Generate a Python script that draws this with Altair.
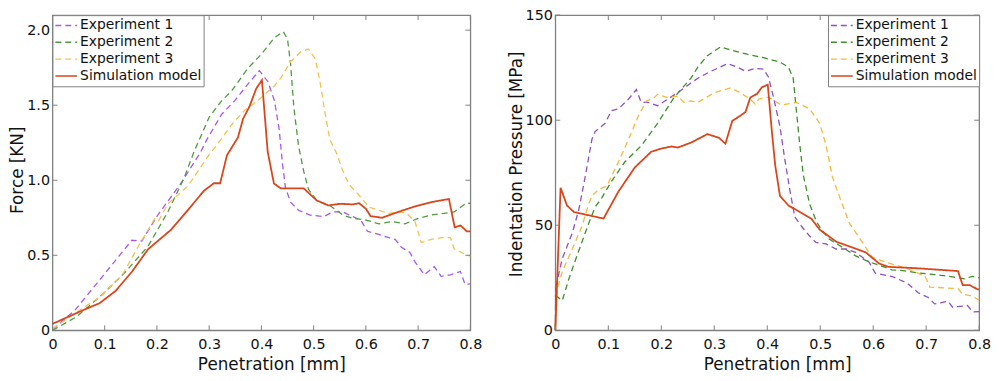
import altair as alt
import pandas as pd

SERIES = ["Experiment 1", "Experiment 2", "Experiment 3", "Simulation model"]
X_TICKS = [0, 0.1, 0.2, 0.3, 0.4, 0.5, 0.6, 0.7, 0.8]
LEFT_Y_TICKS = [0, 0.5, 1.0, 1.5, 2.0]
RIGHT_Y_TICKS = [0, 50, 100, 150]
LEFT_COLORS = ["#a557f2", "#4f9a3f", "#f3c24f", "#d9461c"]
RIGHT_COLORS = ["#8e4fc0", "#3e8e2b", "#f6b93a", "#d9461c"]
DASHES = [[6, 4], [6, 4], [6, 4], [1, 0]]

# ---- Left panel: Force [KN] ----
L_EXP1_X = [0, 0.043, 0.096, 0.152, 0.171, 0.202, 0.246, 0.284, 0.296, 0.324, 0.349, 0.374, 0.396, 0.412, 0.425, 0.434, 0.44, 0.446, 0.456, 0.471, 0.493, 0.519, 0.537, 0.556, 0.575, 0.59, 0.603, 0.625, 0.644, 0.656, 0.668, 0.684, 0.694, 0.712, 0.731, 0.744, 0.762, 0.781, 0.79, 0.8]
L_EXP1_Y = [0.006, 0.134, 0.36, 0.60, 0.595, 0.77, 0.98, 1.19, 1.274, 1.44, 1.53, 1.64, 1.73, 1.66, 1.53, 1.34, 1.12, 0.95, 0.854, 0.80, 0.768, 0.757, 0.789, 0.789, 0.757, 0.735, 0.66, 0.639, 0.617, 0.606, 0.553, 0.52, 0.456, 0.37, 0.424, 0.36, 0.37, 0.392, 0.305, 0.31]

L_EXP2_X = [0, 0.046, 0.096, 0.14, 0.183, 0.221, 0.252, 0.271, 0.3, 0.324, 0.343, 0.374, 0.4, 0.425, 0.442, 0.45, 0.456, 0.462, 0.471, 0.481, 0.49, 0.506, 0.531, 0.556, 0.575, 0.6, 0.625, 0.65, 0.675, 0.7, 0.725, 0.75, 0.769, 0.781, 0.793, 0.8]
L_EXP2_Y = [0.0, 0.09, 0.24, 0.39, 0.56, 0.79, 1.015, 1.19, 1.42, 1.53, 1.595, 1.746, 1.84, 1.95, 1.99, 1.94, 1.77, 1.49, 1.23, 1.06, 0.94, 0.865, 0.832, 0.768, 0.746, 0.735, 0.71, 0.725, 0.71, 0.746, 0.768, 0.779, 0.789, 0.82, 0.85, 0.845]

L_EXP3_X = [0, 0.046, 0.09, 0.134, 0.165, 0.196, 0.203, 0.221, 0.259, 0.3, 0.318, 0.343, 0.368, 0.393, 0.425, 0.437, 0.456, 0.475, 0.49, 0.503, 0.512, 0.522, 0.531, 0.543, 0.556, 0.568, 0.587, 0.606, 0.625, 0.644, 0.662, 0.678, 0.694, 0.706, 0.725, 0.744, 0.762, 0.769, 0.788, 0.8]
L_EXP3_Y = [0.01, 0.12, 0.22, 0.37, 0.563, 0.746, 0.73, 0.843, 0.96, 1.17, 1.25, 1.37, 1.466, 1.53, 1.63, 1.68, 1.79, 1.855, 1.875, 1.81, 1.66, 1.445, 1.27, 1.187, 1.06, 0.97, 0.90, 0.82, 0.80, 0.779, 0.789, 0.779, 0.725, 0.585, 0.606, 0.617, 0.617, 0.542, 0.51, 0.495]

L_SIM_X = [0, 0.043, 0.065, 0.09, 0.121, 0.152, 0.183, 0.227, 0.259, 0.29, 0.309, 0.321, 0.334, 0.355, 0.365, 0.377, 0.39, 0.401, 0.412, 0.424, 0.437, 0.481, 0.506, 0.528, 0.55, 0.575, 0.587, 0.6, 0.609, 0.631, 0.662, 0.694, 0.725, 0.759, 0.77, 0.781, 0.793, 0.8]
L_SIM_Y = [0.043, 0.11, 0.144, 0.18, 0.263, 0.39, 0.54, 0.67, 0.8, 0.93, 0.98, 0.98, 1.166, 1.285, 1.41, 1.49, 1.61, 1.667, 1.19, 0.978, 0.946, 0.946, 0.865, 0.832, 0.843, 0.839, 0.847, 0.81, 0.761, 0.75, 0.789, 0.826, 0.854, 0.875, 0.686, 0.699, 0.66, 0.66]

# ---- Right panel: Indentation Pressure [MPa] ----
R_EXP1_X = [0, 0.002, 0.013, 0.032, 0.044, 0.057, 0.069, 0.075, 0.094, 0.106, 0.119, 0.138, 0.153, 0.162, 0.175, 0.193, 0.212, 0.231, 0.256, 0.269, 0.293, 0.325, 0.343, 0.359, 0.377, 0.393, 0.402, 0.412, 0.424, 0.433, 0.443, 0.452, 0.465, 0.48, 0.492, 0.511, 0.53, 0.549, 0.567, 0.592, 0.604, 0.636, 0.664, 0.685, 0.704, 0.716, 0.741, 0.75, 0.778, 0.788, 0.8]
R_EXP1_Y = [2, 21.8, 34.1, 46.3, 57.1, 73.9, 90.8, 94.6, 98.5, 104.6, 105.4, 110, 114.6, 108.5, 108.5, 106.9, 110, 113.1, 117.7, 120, 123.2, 126.9, 125.3, 123.3, 124.6, 124.3, 120.7, 110.8, 97, 81.6, 66.3, 54, 49.4, 44.9, 41.8, 41.1, 38.7, 38.7, 37.1, 32.5, 27.2, 25.6, 22.5, 17.9, 15.6, 12.6, 13.8, 11.0, 11.8, 8.7, 8.9]

R_EXP2_X = [0, 0.0006, 0.002, 0.013, 0.026, 0.041, 0.063, 0.075, 0.088, 0.106, 0.131, 0.162, 0.193, 0.224, 0.256, 0.269, 0.287, 0.312, 0.331, 0.362, 0.393, 0.424, 0.44, 0.449, 0.455, 0.461, 0.468, 0.48, 0.493, 0.502, 0.517, 0.542, 0.567, 0.592, 0.61, 0.635, 0.66, 0.685, 0.704, 0.728, 0.753, 0.772, 0.787, 0.8]
R_EXP2_Y = [0, 20.2, 16.4, 14.1, 24.8, 35.6, 50.9, 58.6, 63.2, 70.9, 80.1, 87.8, 98.5, 110.8, 120, 125.3, 130.7, 134.9, 133.4, 131.4, 129.8, 127.6, 125.3, 120, 104.6, 89.3, 74, 60.1, 51.7, 48.0, 43.4, 39.5, 35.4, 32.6, 31.1, 28.8, 28.3, 27.3, 26.8, 26.2, 25.3, 24.5, 25.7, 25.0]

R_EXP3_X = [0, 0.004, 0.013, 0.032, 0.05, 0.063, 0.069, 0.082, 0.097, 0.119, 0.138, 0.156, 0.172, 0.187, 0.193, 0.212, 0.231, 0.243, 0.256, 0.269, 0.3, 0.331, 0.349, 0.368, 0.377, 0.384, 0.402, 0.427, 0.455, 0.48, 0.499, 0.511, 0.523, 0.538, 0.555, 0.58, 0.598, 0.623, 0.654, 0.679, 0.698, 0.707, 0.735, 0.76, 0.769, 0.785, 0.8]
R_EXP3_Y = [2, 20.2, 27.9, 38.7, 49.4, 60.1, 64.0, 67.1, 68.6, 80.1, 90.8, 101.6, 109.2, 110.8, 112.3, 110.8, 111.5, 108.5, 109.2, 108.5, 113.1, 115.4, 113.1, 110, 107.7, 110, 111, 107.2, 108.5, 105.4, 98.5, 88, 73, 62.5, 51, 41.7, 34.8, 32.5, 30.2, 27.9, 25.6, 20.6, 20.2, 19.9, 17.2, 16.4, 14.4]

R_SIM_X = [0, 0.0099, 0.022, 0.035, 0.091, 0.119, 0.15, 0.181, 0.2, 0.219, 0.231, 0.256, 0.287, 0.309, 0.321, 0.334, 0.346, 0.359, 0.368, 0.381, 0.39, 0.401, 0.409, 0.415, 0.424, 0.44, 0.483, 0.499, 0.53, 0.586, 0.611, 0.629, 0.685, 0.76, 0.769, 0.782, 0.797, 0.8]
R_SIM_Y = [0, 67.8, 59.4, 56.3, 53.2, 66, 77.5, 85, 86.5, 87.5, 87.0, 89.3, 93.4, 91.6, 88.8, 99.7, 101.6, 103.9, 110.8, 112.6, 115.7, 116.9, 93.9, 78.6, 64, 59.4, 53.2, 47.9, 42.2, 37.1, 31.8, 30.2, 29.5, 28.2, 21.5, 21.5, 19.5, 19.5]

FONT = "DejaVu Sans"
FRAME = "#808080"
TEXT = "#111111"


def build_df(pairs):
    rows = []
    for name, xs, ys in pairs:
        for i, (x, y) in enumerate(zip(xs, ys, strict=True)):
            rows.append({"series": name, "x": x, "y": y, "i": i})
    return pd.DataFrame(rows)


left_df = build_df([
    (SERIES[0], L_EXP1_X, L_EXP1_Y),
    (SERIES[1], L_EXP2_X, L_EXP2_Y),
    (SERIES[2], L_EXP3_X, L_EXP3_Y),
    (SERIES[3], L_SIM_X, L_SIM_Y),
])
right_df = build_df([
    (SERIES[0], R_EXP1_X, R_EXP1_Y),
    (SERIES[1], R_EXP2_X, R_EXP2_Y),
    (SERIES[2], R_EXP3_X, R_EXP3_Y),
    (SERIES[3], R_SIM_X, R_SIM_Y),
])


def panel(df, colors, y_max, y_ticks, y_title, y_label_expr, legend_orient,
          width, height, title_y_shift):
    x_scale = alt.Scale(domain=[0, 0.8], nice=False, zero=False)
    y_scale = alt.Scale(domain=[0, y_max], nice=False, zero=False)
    legend = alt.Legend(
        title=None, orient=legend_orient, offset=0, padding=2,
        fillColor="white", strokeColor=FRAME, symbolType="stroke",
        symbolSize=484, symbolStrokeWidth=1.5, labelFont=FONT,
        labelFontSize=14, labelColor=TEXT, labelOffset=2, clipHeight=17,
        rowPadding=0, labelLimit=300,
    )
    color = alt.Color("series:N", scale=alt.Scale(domain=SERIES, range=colors), legend=legend)
    dash = alt.StrokeDash("series:N", scale=alt.Scale(domain=SERIES, range=DASHES), legend=legend)
    x_axis = alt.Axis(values=X_TICKS, ticks=False, domain=False, grid=False,
                      labelFlush=False, labelPadding=7, titlePadding=6,
                      titleX=width / 2 + 10,
                      labelExpr="datum.value == 0 ? '0' : format(datum.value, '.1f')")
    y_axis = alt.Axis(values=y_ticks, ticks=False, domain=False, grid=False,
                      labelPadding=3, titlePadding=0,
                      titleY=height / 2 - title_y_shift,
                      labelExpr=y_label_expr)
    x_enc = alt.X("x:Q", scale=x_scale, title="Penetration [mm]", axis=x_axis)
    y_enc = alt.Y("y:Q", scale=y_scale, title=y_title, axis=y_axis)
    base = alt.Chart(df)
    exp = base.transform_filter(alt.datum.series != SERIES[3]).mark_line(strokeWidth=1.3).encode(
        x=x_enc, y=y_enc, color=color, strokeDash=dash, order="i:Q")
    sim = base.transform_filter(alt.datum.series == SERIES[3]).mark_line(strokeWidth=1.8).encode(
        x=x_enc, y=y_enc, color=color, strokeDash=dash, order="i:Q")

    xt = alt.Chart(pd.DataFrame({"x": X_TICKS}))
    yt = alt.Chart(pd.DataFrame({"y": y_ticks}))
    tk = 5
    t_bottom = xt.mark_rule(color=FRAME, strokeWidth=1).encode(
        x=x_enc, y=alt.value(height), y2=alt.value(height - tk))
    t_top = xt.mark_rule(color=FRAME, strokeWidth=1).encode(
        x=x_enc, y=alt.value(0), y2=alt.value(tk))
    t_left = yt.mark_rule(color=FRAME, strokeWidth=1).encode(
        y=y_enc, x=alt.value(0), x2=alt.value(tk))
    t_right = yt.mark_rule(color=FRAME, strokeWidth=1).encode(
        y=y_enc, x=alt.value(width), x2=alt.value(width - tk))
    return alt.layer(exp, sim, t_bottom, t_top, t_left, t_right).properties(
        width=width, height=height)


H = 319
left = panel(left_df, LEFT_COLORS, 2.1, LEFT_Y_TICKS, "Force [KN]",
             "datum.value == 0 ? '0' : format(datum.value, '.1f')",
             "top-left", 423, H, 3)
right = panel(right_df, RIGHT_COLORS, 150, RIGHT_Y_TICKS, "Indentation Pressure [MPa]",
              "format(datum.value, 'd')",
              "top-right", 429, H, 9)

chart = alt.hconcat(left, right, spacing=86, bounds="flush").resolve_scale(
    color="independent", strokeDash="independent"
).properties(
    padding={"left": 0, "top": -4, "right": 0, "bottom": 0}
).configure_view(
    stroke=FRAME, strokeWidth=1.3
).configure_axis(
    labelFont=FONT, labelFontSize=14.5, labelColor=TEXT,
    titleFont=FONT, titleFontSize=17, titleFontWeight="normal", titleColor=TEXT,
)

chart.save("out.html", embed_options={"renderer": "svg", "actions": False})
